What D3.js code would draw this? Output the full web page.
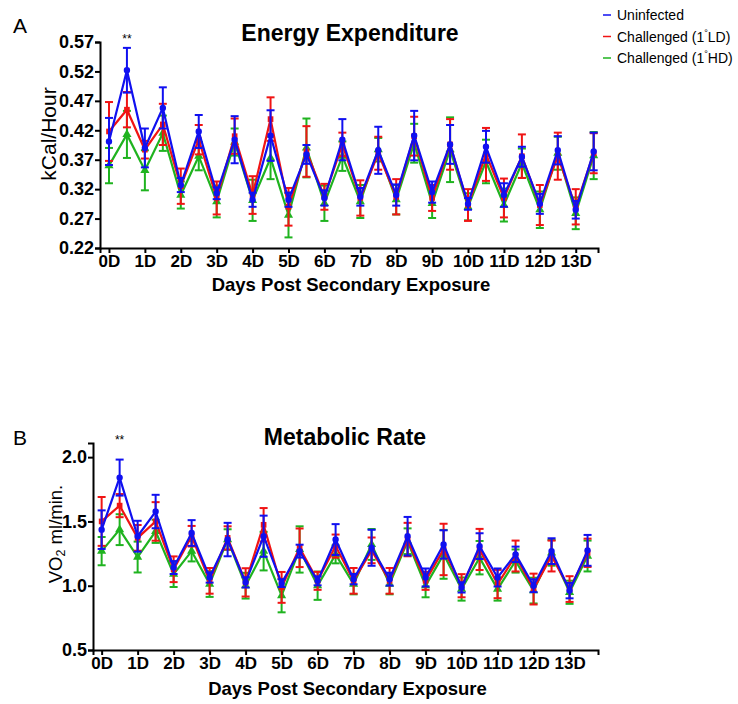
<!DOCTYPE html>
<html>
<head>
<meta charset="utf-8">
<script src="https://cdn.jsdelivr.net/npm/d3@7"></script>
<style>
  html, body { margin: 0; padding: 0; background: #fff; }
  svg { display: block; font-family: Arial, "Liberation Sans", Helvetica, sans-serif; }
  .axis path, .axis line { stroke: #000; stroke-width: 2; }
  .axis text { font-weight: bold; font-size: 17px; fill: #000; }
  .axis.yax text { font-size: 18px; }
</style>
</head>
<body>
<svg id="chart" width="738" height="704"></svg>
<script>
// Time points: every half day from 0D to 13.5D
const days = [0,0.5,1,1.5,2,2.5,3,3.5,4,4.5,5,5.5,6,6.5,7,7.5,8,8.5,9,9.5,10,10.5,11,11.5,12,12.5,13,13.5];
const dayTicks = [0,1,2,3,4,5,6,7,8,9,10,11,12,13];
const dayTickLabels = ["0D","1D","2D","3D","4D","5D","6D","7D","8D","9D","10D","11D","12D","13D"];

const seriesNames = ["Uninfected", "Challenged (1", "Challenged (1"];
const seriesSuffix = ["", "LD)", "HD)"];

// Energy expenditure (kCal/Hour): means and SEM
const eeUninfected = [0.401,0.522,0.390,0.458,0.327,0.418,0.313,0.404,0.302,0.411,0.302,0.379,0.305,0.404,
                      0.307,0.386,0.310,0.411,0.315,0.396,0.295,0.392,0.310,0.375,0.295,0.386,0.285,0.384];
const eeUninfectedErr = [0.040,0.038,0.033,0.035,0.012,0.028,0.010,0.040,0.012,0.043,0.012,0.016,0.013,0.035,
                         0.015,0.040,0.018,0.042,0.018,0.033,0.010,0.027,0.020,0.017,0.017,0.024,0.015,0.032];
const eeLowDose = [0.418,0.455,0.387,0.430,0.325,0.404,0.305,0.410,0.310,0.439,0.290,0.384,0.307,0.396,
                   0.305,0.381,0.307,0.410,0.305,0.396,0.293,0.379,0.305,0.376,0.293,0.376,0.290,0.381];
const eeLowDoseErr = [0.050,0.030,0.015,0.035,0.030,0.025,0.028,0.030,0.032,0.037,0.032,0.043,0.022,0.020,
                      0.030,0.028,0.030,0.033,0.022,0.043,0.027,0.045,0.033,0.037,0.034,0.040,0.030,0.034];
const eeHighDose = [0.360,0.413,0.352,0.415,0.310,0.376,0.299,0.400,0.301,0.373,0.276,0.390,0.296,0.376,
                    0.299,0.387,0.302,0.398,0.296,0.387,0.290,0.367,0.293,0.364,0.285,0.381,0.279,0.377];
const eeHighDoseErr = [0.030,0.040,0.034,0.030,0.023,0.024,0.027,0.023,0.035,0.036,0.038,0.050,0.030,0.025,
                       0.028,0.020,0.025,0.033,0.025,0.055,0.023,0.037,0.028,0.025,0.031,0.028,0.027,0.040];
const eeTicks = [0.22,0.27,0.32,0.37,0.42,0.47,0.52,0.57];

// Metabolic rate (VO2 ml/min.): means and SEM
const mrUninfected = [1.436,1.841,1.385,1.577,1.141,1.410,1.064,1.359,1.026,1.385,1.020,1.269,1.038,1.359,
                      1.051,1.295,1.051,1.385,1.064,1.321,0.987,1.308,1.064,1.244,1.000,1.269,0.962,1.275];
const mrUninfectedErr = [0.150,0.140,0.120,0.130,0.050,0.100,0.040,0.130,0.040,0.160,0.030,0.050,0.035,0.120,
                         0.040,0.140,0.050,0.150,0.070,0.110,0.040,0.100,0.070,0.060,0.050,0.100,0.060,0.120];
const mrLowDose = [1.500,1.623,1.372,1.500,1.128,1.385,1.038,1.372,1.026,1.474,0.987,1.295,1.038,1.308,
                   1.038,1.275,1.038,1.359,1.038,1.282,1.000,1.282,1.013,1.231,0.974,1.231,0.974,1.256];
const mrLowDoseErr = [0.190,0.090,0.100,0.150,0.100,0.080,0.100,0.090,0.110,0.130,0.120,0.150,0.070,0.090,
                      0.100,0.100,0.100,0.130,0.070,0.200,0.090,0.160,0.110,0.120,0.120,0.120,0.100,0.110];
const mrHighDose = [1.269,1.436,1.223,1.423,1.090,1.269,1.013,1.359,1.000,1.269,0.923,1.282,1.000,1.244,
                    1.013,1.321,1.013,1.346,1.000,1.244,0.974,1.218,0.974,1.192,0.962,1.256,0.949,1.231];
const mrHighDoseErr = [0.110,0.120,0.120,0.090,0.100,0.080,0.100,0.080,0.100,0.150,0.130,0.180,0.110,0.070,
                       0.080,0.120,0.080,0.100,0.090,0.190,0.090,0.130,0.090,0.090,0.100,0.100,0.090,0.120];
const mrTicks = [0.5,1.0,1.5,2.0];

const colors = ["#1010f0", "#f01414", "#1fb31f"];
const symbols = [d3.symbolCircle, d3.symbolSquare, d3.symbolTriangle];

const svg = d3.select("#chart");

function drawPanel(cfg) {
  const g = svg.append("g");
  const x = d3.scaleLinear().domain(cfg.xDomain).range([cfg.left, cfg.right]);
  const y = d3.scaleLinear().domain(cfg.yDomain).range([cfg.bottom, cfg.top]);

  // axes
  g.append("g").attr("class", "axis")
    .attr("transform", `translate(0,${cfg.bottom})`)
    .call(d3.axisBottom(x).tickValues(dayTicks).tickSizeOuter(0).tickSize(5).tickPadding(2)
      .tickFormat((d, i) => dayTickLabels[i]));
  g.append("g").attr("class", "axis yax")
    .attr("transform", `translate(${cfg.left},0)`)
    .call(d3.axisLeft(y).tickValues(cfg.yTicks).tickSizeOuter(0).tickSize(5).tickPadding(1)
      .tickFormat(d3.format(cfg.yFormat)));

  // series, drawn so the uninfected group sits on top
  const order = [2, 1, 0];
  order.forEach(si => {
    const vals = cfg.values[si], errs = cfg.errors[si], col = colors[si];
    const pts = days.map((d, i) => ({ d, v: vals[i], e: errs[i] }));
    const sg = g.append("g");
    // error bars
    const eb = sg.selectAll(".eb").data(pts).enter().append("g");
    eb.append("line")
      .attr("x1", p => x(p.d)).attr("x2", p => x(p.d))
      .attr("y1", p => y(p.v - p.e)).attr("y2", p => y(p.v + p.e))
      .attr("stroke", col).attr("stroke-width", 2);
    [-1, 1].forEach(s => {
      eb.append("line")
        .attr("x1", p => x(p.d) - 4).attr("x2", p => x(p.d) + 4)
        .attr("y1", p => y(p.v + s * p.e)).attr("y2", p => y(p.v + s * p.e))
        .attr("stroke", col).attr("stroke-width", 2);
    });
    // connecting line
    sg.append("path").datum(pts)
      .attr("fill", "none").attr("stroke", col).attr("stroke-width", 2.2)
      .attr("d", d3.line().x(p => x(p.d)).y(p => y(p.v)));
    // markers
    sg.selectAll(".mk").data(pts).enter().append("path")
      .attr("transform", p => `translate(${x(p.d)},${y(p.v)})`)
      .attr("d", d3.symbol().type(symbols[si]).size(si === 2 ? 36 : 32))
      .attr("fill", col);
  });

  // significance marker
  g.append("text").attr("x", x(0.5)).attr("y", cfg.starY)
    .attr("text-anchor", "middle").attr("font-size", 12).attr("fill", "#000").text("**");

  // title
  g.append("text").attr("x", cfg.titleX).attr("y", cfg.titleY)
    .attr("text-anchor", "middle").attr("font-size", 23).attr("font-weight", "bold")
    .attr("fill", "#000").text(cfg.title);

  // x axis title
  g.append("text").attr("x", (cfg.left + cfg.right) / 2 + 2).attr("y", cfg.xTitleY)
    .attr("text-anchor", "middle").attr("font-size", 18.5).attr("font-weight", "bold")
    .attr("fill", "#000").text("Days Post Secondary Exposure");

  // panel letter
  g.append("text").attr("x", 13).attr("y", cfg.letterY)
    .attr("font-size", 21).attr("fill", "#000").text(cfg.letter);

  return g;
}

const gA = drawPanel({
  left: 100, right: 598, top: 42, bottom: 248,
  xDomain: [-0.25, 13.62], yDomain: [0.22, 0.57], yTicks: eeTicks, yFormat: ".2f",
  values: [eeUninfected, eeLowDose, eeHighDose],
  errors: [eeUninfectedErr, eeLowDoseErr, eeHighDoseErr],
  title: "Energy Expenditure", titleX: 350, titleY: 41,
  xTitleY: 291, starY: 43, letter: "A", letterY: 33
});
gA.append("text")
  .attr("transform", "translate(56,134) rotate(-90)")
  .attr("text-anchor", "middle").attr("font-size", 21).attr("fill", "#000")
  .text("kCal/Hour");

const gB = drawPanel({
  left: 93, right: 598, top: 443, bottom: 650,
  xDomain: [-0.24, 13.79], yDomain: [0.5, 2.11], yTicks: mrTicks, yFormat: ".1f",
  values: [mrUninfected, mrLowDose, mrHighDose],
  errors: [mrUninfectedErr, mrLowDoseErr, mrHighDoseErr],
  title: "Metabolic Rate", titleX: 345, titleY: 445,
  xTitleY: 695, starY: 444, letter: "B", letterY: 445
});
const vo = gB.append("text")
  .attr("transform", "translate(62,534) rotate(-90)")
  .attr("text-anchor", "middle").attr("font-size", 18.5).attr("fill", "#000");
vo.append("tspan").text("VO");
vo.append("tspan").attr("font-size", 12.5).attr("dy", 3).text("2");
vo.append("tspan").attr("dy", -3).text(" ml/min.");

// legend
const legend = svg.append("g");
[0, 1, 2].forEach(i => {
  const ly = 15 + i * 21.5;
  legend.append("line").attr("x1", 603).attr("x2", 611).attr("y1", ly).attr("y2", ly)
    .attr("stroke", colors[i]).attr("stroke-width", 1.5);
  const t = legend.append("text").attr("x", 617).attr("y", ly + 5)
    .attr("font-size", 14).attr("fill", "#000");
  t.append("tspan").text(seriesNames[i]);
  if (seriesSuffix[i]) {
    t.append("tspan").attr("font-size", 9).attr("dy", -6).text("°");
    t.append("tspan").attr("dy", 6).text(seriesSuffix[i]);
  }
});
</script>
</body>
</html>
